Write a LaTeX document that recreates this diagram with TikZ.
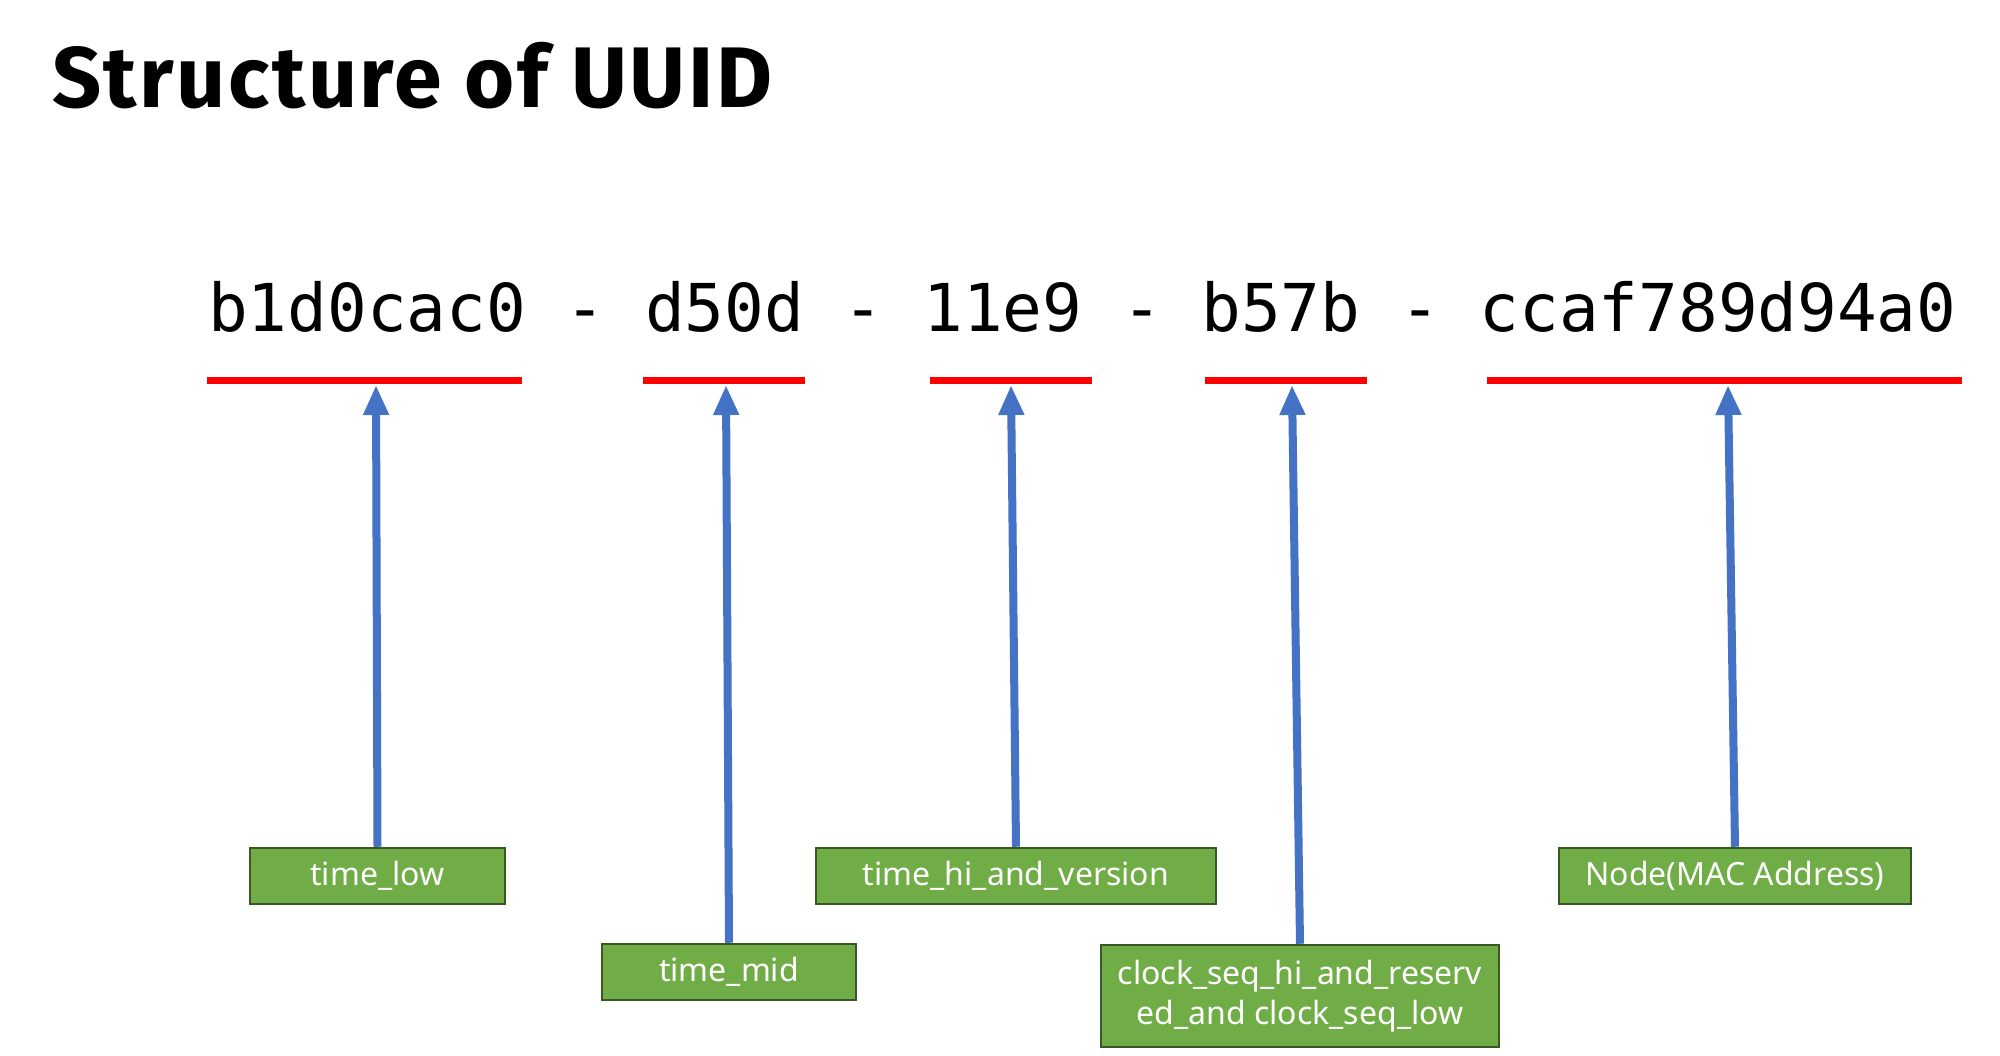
\documentclass[tikz,border=0pt]{standalone}
\usepackage{fontspec}
\setmainfont{Noto Sans}
\newfontfamily\titlefont[LetterSpace=3]{Fira Sans}
\newfontfamily\uuidfont{DejaVu Sans Mono}
\usetikzlibrary{arrows.meta}
\definecolor{boxgreen}{HTML}{70AD47}
\definecolor{boxedge}{HTML}{385723}
\definecolor{arrowblue}{HTML}{4472C4}
\definecolor{segred}{HTML}{FF0000}
\tikzset{
  fieldbox/.style={draw=boxedge, line width=2.5pt, fill=boxgreen, text=white,
    inner sep=0pt, align=center, font=\fontsize{32}{40}\selectfont},
  segline/.style={draw=segred, line width=7pt},
  fieldarrow/.style={draw=arrowblue, line width=8pt,
    -{Triangle[width=24pt,length=30pt]}}
}
\begin{document}
\begin{tikzpicture}[x=1pt,y=-1pt]
\useasboundingbox[fill=white] (0,0) rectangle (2000,1056);
\node[anchor=base west, inner sep=0pt, font=\titlefont\bfseries\fontsize{86}{100}\selectfont] (title) at (52,108) {Structure of UUID};
\node[anchor=base west, inner sep=0pt, font=\uuidfont\fontsize{66}{80}\selectfont] (uuid) at (208,332) {b1d0cac0 - d50d - 11e9 - b57b - ccaf789d94a0};
% red segments
\coordinate (s1a) at (207,381); \coordinate (s1b) at (522,381);
\coordinate (s2a) at (643,381); \coordinate (s2b) at (805,381);
\coordinate (s3a) at (930,381); \coordinate (s3b) at (1092,381);
\coordinate (s4a) at (1205,381); \coordinate (s4b) at (1367,381);
\coordinate (s5a) at (1487,381); \coordinate (s5b) at (1962,381);
\draw[segline] (s1a) -- (s1b);
\draw[segline] (s2a) -- (s2b);
\draw[segline] (s3a) -- (s3b);
\draw[segline] (s4a) -- (s4b);
\draw[segline] (s5a) -- (s5b);
% arrow tips
\coordinate (t1) at (376,385);
\coordinate (t2) at (726,385);
\coordinate (t3) at (1011,385);
\coordinate (t4) at (1292,385);
\coordinate (t5) at (1728,385);
% boxes
\node[fieldbox, minimum width=255pt, minimum height=56pt] (b1) at (377.5,876) {time\_low};
\node[fieldbox, minimum width=254pt, minimum height=56pt] (b2) at (729,972) {time\_mid};
\node[fieldbox, minimum width=400pt, minimum height=56pt] (b3) at (1016,876) {time\_hi\_and\_version};
\node[fieldbox, minimum width=398pt, minimum height=102pt] (b4) at (1300,996) {clock\_seq\_hi\_and\_reserv\\ed\_and clock\_seq\_low};
\node[fieldbox, minimum width=352pt, minimum height=56pt] (b5) at (1735,876) {Node(MAC Address)};
% arrows
\draw[fieldarrow] (b1.north) -- (t1);
\draw[fieldarrow] (b2.north) -- (t2);
\draw[fieldarrow] (b3.north) -- (t3);
\draw[fieldarrow] (b4.north) -- (t4);
\draw[fieldarrow] (b5.north) -- (t5);
\end{tikzpicture}
\end{document}
